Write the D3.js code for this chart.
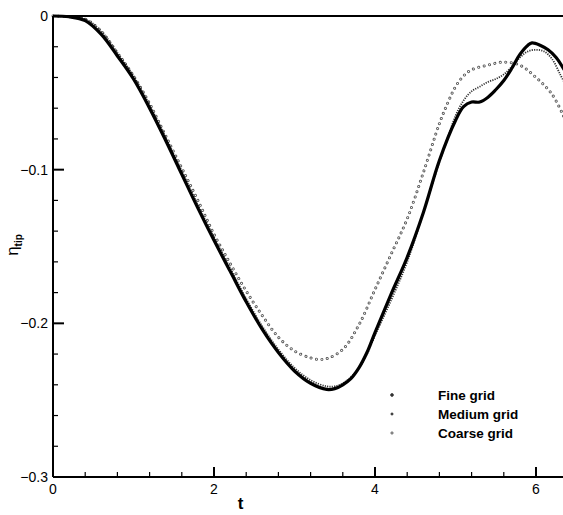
<!DOCTYPE html>
<html><head><meta charset="utf-8">
<script src="https://cdn.jsdelivr.net/npm/d3@7"></script>
<style>body{margin:0;background:#fff}svg{display:block}</style>
</head><body>
<svg id="c" width="563" height="515"></svg>
<script>
const fineT   = [0,0.2,0.4,0.6,0.8,1.0,1.2,1.4,1.6,1.8,2.0,2.2,2.4,2.6,2.8,3.0,3.2,3.4,3.5,3.6,3.7,3.8,3.9,4.0,4.2,4.4,4.6,4.8,5.0,5.1,5.2,5.3,5.4,5.5,5.6,5.7,5.8,5.9,5.95,6.05,6.15,6.25,6.35];
const fineV   = [0,-0.0005,-0.003,-0.012,-0.026,-0.041,-0.060,-0.081,-0.103,-0.125,-0.146,-0.166,-0.186,-0.204,-0.219,-0.231,-0.239,-0.243,-0.2425,-0.240,-0.236,-0.229,-0.219,-0.206,-0.181,-0.157,-0.128,-0.094,-0.068,-0.059,-0.056,-0.056,-0.053,-0.048,-0.042,-0.034,-0.025,-0.019,-0.0175,-0.019,-0.022,-0.027,-0.035];
const mediumT = [0,0.2,0.4,0.6,0.8,1.0,1.2,1.4,1.6,1.8,2.0,2.2,2.4,2.6,2.8,3.0,3.2,3.4,3.5,3.6,3.7,3.8,3.9,4.0,4.2,4.4,4.6,4.8,4.9,5.0,5.1,5.2,5.3,5.4,5.5,5.6,5.7,5.8,5.9,6.0,6.1,6.2,6.3,6.35];
const mediumV = [0,-0.0005,-0.002,-0.010,-0.024,-0.039,-0.058,-0.079,-0.101,-0.123,-0.144,-0.164,-0.184,-0.202,-0.217,-0.229,-0.237,-0.241,-0.241,-0.239,-0.235,-0.229,-0.220,-0.208,-0.185,-0.160,-0.128,-0.095,-0.080,-0.065,-0.055,-0.049,-0.046,-0.043,-0.041,-0.038,-0.033,-0.027,-0.023,-0.022,-0.023,-0.028,-0.038,-0.043];
const coarseT = [0,0.2,0.4,0.6,0.8,1.0,1.2,1.4,1.6,1.8,2.0,2.2,2.4,2.6,2.8,3.0,3.2,3.3,3.4,3.6,3.8,4.0,4.2,4.4,4.6,4.8,4.9,5.0,5.1,5.2,5.4,5.6,5.8,6.0,6.2,6.35];
const coarseV = [0,-0.0005,-0.002,-0.010,-0.024,-0.039,-0.057,-0.078,-0.099,-0.120,-0.142,-0.161,-0.179,-0.195,-0.209,-0.218,-0.2225,-0.2235,-0.223,-0.217,-0.201,-0.178,-0.155,-0.132,-0.102,-0.070,-0.057,-0.046,-0.039,-0.035,-0.032,-0.030,-0.032,-0.040,-0.051,-0.066];
const xTicks = [0,2,4,6];
const yTicks = [0,-0.1,-0.2,-0.3];
const legendLabels = ["Fine grid","Medium grid","Coarse grid"];

const svg = d3.select("#c");
const L = 53, T = 16, B = 477;
const x = d3.scaleLinear().domain([0,6.4]).range([L, L + 80.5*6.4]);
const y = d3.scaleLinear().domain([-0.3,0]).range([B, T]);
const font = "Liberation Sans, Arial, sans-serif";

const line = d3.line().x(d=>x(d[0])).y(d=>y(d[1])).curve(d3.curveCatmullRom);
const fine = fineT.map((t,i)=>[t,fineV[i]]);
const medium = mediumT.map((t,i)=>[t,mediumV[i]]);
const coarse = coarseT.map((t,i)=>[t,coarseV[i]]);

const g = svg.append("g");
// coarse: hollow circles via dash pattern
g.append("path").attr("d", line(coarse)).attr("fill","none").attr("stroke","#555")
  .attr("stroke-width",3).attr("stroke-linecap","round").attr("stroke-dasharray","0.01 5.5");
g.append("path").attr("d", line(coarse)).attr("fill","none").attr("stroke","#fff")
  .attr("stroke-width",1.3).attr("stroke-linecap","round").attr("stroke-dasharray","0.01 5.5");
// medium: dense small dots
g.append("path").attr("d", line(medium)).attr("fill","none").attr("stroke","#333")
  .attr("stroke-width",1.8).attr("stroke-dasharray","1.2 1.2");
// fine: thick solid
g.append("path").attr("d", line(fine)).attr("fill","none").attr("stroke","#000")
  .attr("stroke-width",3.2).attr("stroke-linejoin","round");

// axes
const xAxis = g => {
  g.append("line").attr("x1",L).attr("x2",563).attr("y1",B).attr("y2",B).attr("stroke","#000").attr("stroke-width",2);
  d3.range(0,6.41,0.4).forEach(t=>{
    const major = xTicks.some(v=>Math.abs(v-t)<1e-6);
    g.append("line").attr("x1",x(t)).attr("x2",x(t)).attr("y1",B).attr("y2",B-(major?10:5)).attr("stroke","#000").attr("stroke-width",major?2:1.2);
  });
  xTicks.forEach(t=>g.append("text").attr("x",x(t)).attr("y",B+17).attr("text-anchor","middle")
    .attr("font-family",font).attr("font-size",14).text(d3.format("d")(t)));
};
svg.append("g").call(xAxis);
const yAxis = g => {
  g.append("line").attr("x1",L).attr("x2",L).attr("y1",T).attr("y2",B).attr("stroke","#000").attr("stroke-width",2);
  g.append("line").attr("x1",L).attr("x2",563).attr("y1",T).attr("y2",T).attr("stroke","#000").attr("stroke-width",2);
  d3.range(0,-0.3001,-0.02).forEach(v=>{
    const major = yTicks.some(w=>Math.abs(w-v)<1e-6);
    g.append("line").attr("x1",L).attr("x2",L+(major?11:5)).attr("y1",y(v)).attr("y2",y(v)).attr("stroke","#000").attr("stroke-width",major?2:1.2);
  });
  yTicks.forEach(v=>g.append("text").attr("x",L-5).attr("y",y(v)+5).attr("text-anchor","end")
    .attr("font-family",font).attr("font-size",14).text(v===0?"0":d3.format(".1f")(v)));
};
svg.append("g").call(yAxis);

svg.append("text").attr("x",x(2.33)).attr("y",509).attr("text-anchor","middle")
  .attr("font-family",font).attr("font-weight","bold").attr("font-size",17).text("t");
const yl = svg.append("text").attr("transform","translate(18,245) rotate(-90)").attr("text-anchor","middle")
  .attr("font-family",font);
yl.append("tspan").attr("font-size",17).text("η");
yl.append("tspan").attr("font-size",10).attr("font-weight","bold").attr("dy",4).text("tip");

// legend
const lg = svg.append("g");
legendLabels.forEach((s,i)=>{
  const yy = 395 + i*19;
  lg.append("circle").attr("cx",392).attr("cy",yy).attr("r", i===0?1.4:1.1)
    .attr("fill", i===2?"#fff":"#333").attr("stroke","#333").attr("stroke-width",0.8);
  lg.append("text").attr("x",438).attr("y",yy+5).attr("font-family",font).attr("font-weight","bold")
    .attr("font-size",13.5).text(s);
});
</script>
</body></html>
